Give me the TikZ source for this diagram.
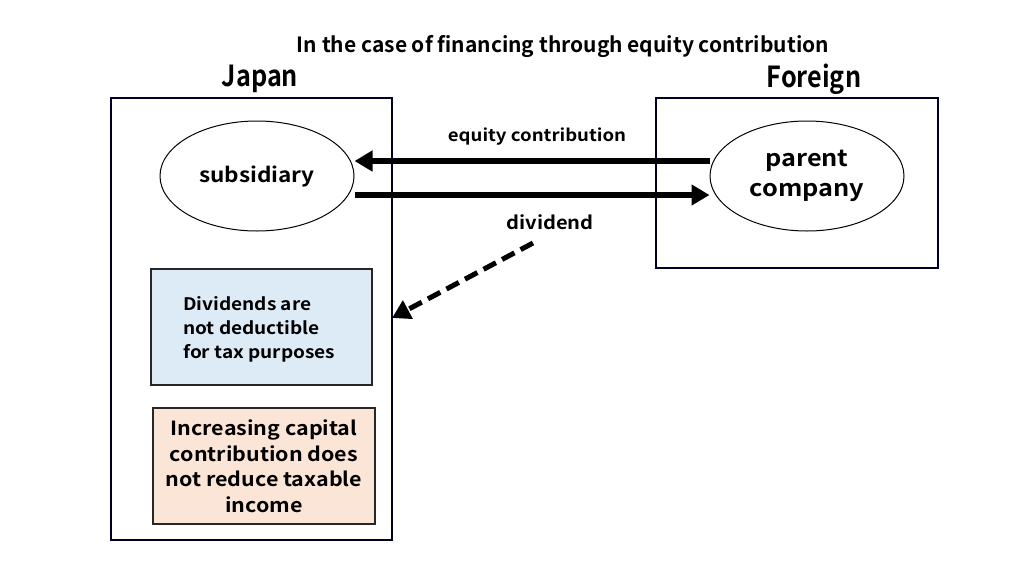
\documentclass[tikz,border=0pt]{standalone}
\usepackage{fontspec}
\setmainfont{Noto Sans CJK JP}[BoldFont={Noto Sans CJK JP Bold},BoldFeatures={FakeStretch=1.1}]
\newfontfamily\titlefont{Noto Sans CJK JP Bold}
\newfontfamily\headfont{Noto Sans CJK JP Bold}[FakeStretch=0.87]
\usetikzlibrary{arrows.meta,shapes.geometric}
\definecolor{bluefill}{HTML}{DDEBF7}
\definecolor{pinkfill}{HTML}{FBE5D6}
\begin{document}
\begin{tikzpicture}[x=1pt,y=-1pt,
  region/.style={draw=black!85!blue, line width=1.2pt},
  oval/.style={draw, ellipse, line width=1pt, minimum width=194pt, minimum height=110pt, inner sep=0pt},
  thickarrow/.style={line width=6pt, -{Triangle[length=18pt,width=20pt]}},
  dasharrow/.style={line width=5pt, dash pattern=on 14pt off 7pt, -{Triangle[length=18pt,width=20pt]}},
  lbl/.style={font=\bfseries\fontsize{16.9}{19}\selectfont}]
\useasboundingbox (0,0) rectangle (1024,576);
\node[font=\titlefont\fontsize{21}{24}\selectfont] (title) at (563,47) {In the case of financing through equity contribution};
\node[font=\headfont\fontsize{29}{32}\selectfont] (japan) at (260,79) {Japan};
\node[font=\headfont\fontsize{29}{32}\selectfont] (foreign) at (814,79) {Foreign};
\draw[region] (111,98) rectangle (392,540);
\coordinate (jright) at (392,318);
\draw[region] (656,98) rectangle (938,268);
\node[oval, font=\bfseries\fontsize{20.5}{22}\selectfont] (sub) at (257,176) {subsidiary};
\node[oval, align=center, font=\bfseries\fontsize{23}{32}\selectfont] (par) at (807,176) {\raisebox{-2pt}{parent}\\company};
\draw[thickarrow] (par.west |- 0,161) -- (sub.east |- 0,161);
\draw[thickarrow] (sub.east |- 0,195) -- (par.west |- 0,195);
\node[lbl] (eqlbl) at (537,137) {equity contribution};
\node[lbl, font=\bfseries\fontsize{18.3}{20}\selectfont] (divlbl) at (550,222) {dividend};
\coordinate (dstart) at (533,243);
\draw[dasharrow] (dstart) -- (jright);
\node[draw=black!85, line width=1.2pt, fill=bluefill, minimum width=221pt, minimum height=116pt] (bluebox) at (261.5,327) {};
\node[align=left, anchor=north west, inner sep=0pt, font=\bfseries\fontsize{17.3}{24}\selectfont] (bluetext) at (183,296) {Dividends are\\not deductible\\for tax purposes};
\node[draw=black!85, line width=1.2pt, fill=pinkfill, minimum width=222pt, minimum height=116pt, align=center, font=\bfseries\fontsize{19.5}{25.5}\selectfont] (pinkbox) at (264,466) {Increasing capital\\contribution does\\not reduce taxable\\income};
\end{tikzpicture}
\end{document}
